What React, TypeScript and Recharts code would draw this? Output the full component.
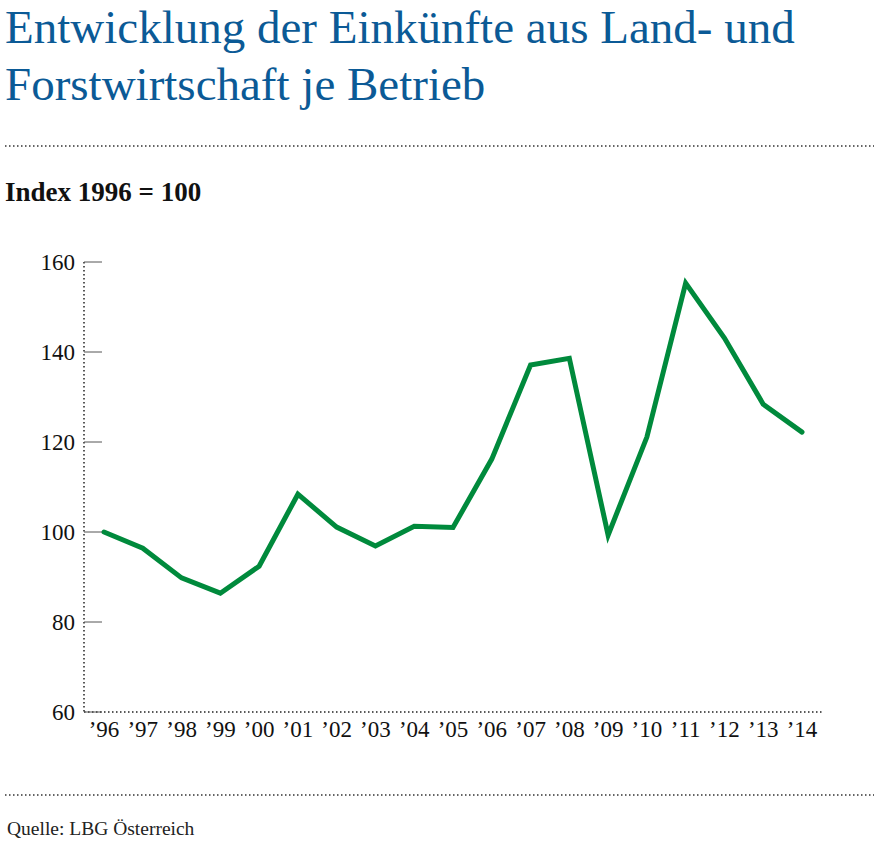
import React from "react";
import { LineChart, Line, XAxis, YAxis } from "recharts";

const years = ["’96", "’97", "’98", "’99", "’00", "’01", "’02", "’03", "’04", "’05", "’06", "’07", "’08", "’09", "’10", "’11", "’12", "’13", "’14"];
const values = [100, 96.4, 89.8, 86.4, 92.4, 108.4, 101.1, 96.9, 101.3, 101.0, 116.2, 137.1, 138.6, 99.3, 121.1, 155.3, 143.1, 128.4, 122.2];
const yTicks = [60, 80, 100, 120, 140, 160];

const title1 = "Entwicklung der Einkünfte aus Land- und";
const title2 = "Forstwirtschaft je Betrieb";
const subtitle = "Index 1996 = 100";
const source = "Quelle: LBG Österreich";

const data = years.map((y, i) => ({ year: y, value: values[i] }));

const FONT = "'Liberation Serif', 'DejaVu Serif', serif";

const YTick = (props: any) => {
  const { x, y, payload } = props;
  return (
    <g>
      <line x1={x} x2={x + 18} y1={y} y2={y} stroke="#555" strokeWidth={1} />
      <text x={x - 9} y={y} dy={8} textAnchor="end" fontFamily={FONT} fontSize={23} fill="#111">
        {payload.value}
      </text>
    </g>
  );
};

const XTick = (props: any) => {
  const { x, y, payload } = props;
  return (
    <text x={x} y={y} dy={25} textAnchor="middle" fontFamily={FONT} fontSize={23} fill="#111">
      {payload.value}
    </text>
  );
};

export default function App() {
  return (
    <div style={{ position: "absolute", left: 0, top: 0, width: 883, height: 846, background: "#fff" }}>
      <div style={{ position: "absolute", left: 0, top: 0 }}>
        <LineChart width={883} height={846} data={data} margin={{ top: 262, right: 61, bottom: 104, left: 24 }}>
          <XAxis
            dataKey="year"
            padding={{ left: 20, right: 20 }}
            axisLine={{ stroke: "#222", strokeDasharray: "1.5 2.5", strokeWidth: 1.5 }}
            tickLine={false}
            tickSize={0}
            tickMargin={0}
            height={30}
            interval={0}
            tick={<XTick />}
          />
          <YAxis
            domain={[60, 160]}
            ticks={yTicks}
            width={60}
            axisLine={{ stroke: "#222", strokeDasharray: "1.5 2.5", strokeWidth: 1.5 }}
            tickLine={false}
            tickSize={0}
            tickMargin={0}
            tick={<YTick />}
          />
          <Line
            type="linear"
            dataKey="value"
            stroke="#008a3c"
            strokeWidth={5}
            strokeLinecap="round"
            strokeLinejoin="miter"
            dot={false}
            isAnimationActive={false}
          />
        </LineChart>
      </div>
      <svg width={883} height={846} style={{ position: "absolute", left: 0, top: 0, pointerEvents: "none" }}>
        <text x={5} y={43} fontFamily={FONT} fontSize={47} fill="#0b5a96">{title1}</text>
        <text x={5} y={100} fontFamily={FONT} fontSize={47} fill="#0b5a96">{title2}</text>
        <line x1={5} x2={874} y1={146} y2={146} stroke="#333" strokeWidth={1.5} strokeDasharray="1.5 2.5" />
        <text x={5} y={201} fontFamily={FONT} fontSize={27} fontWeight="bold" fill="#111">{subtitle}</text>
        <line x1={5} x2={874} y1={795} y2={795} stroke="#333" strokeWidth={1.5} strokeDasharray="1.5 2.5" />
        <text x={7} y={835} fontFamily={FONT} fontSize={19.5} fill="#222">{source}</text>
      </svg>
    </div>
  );
}
